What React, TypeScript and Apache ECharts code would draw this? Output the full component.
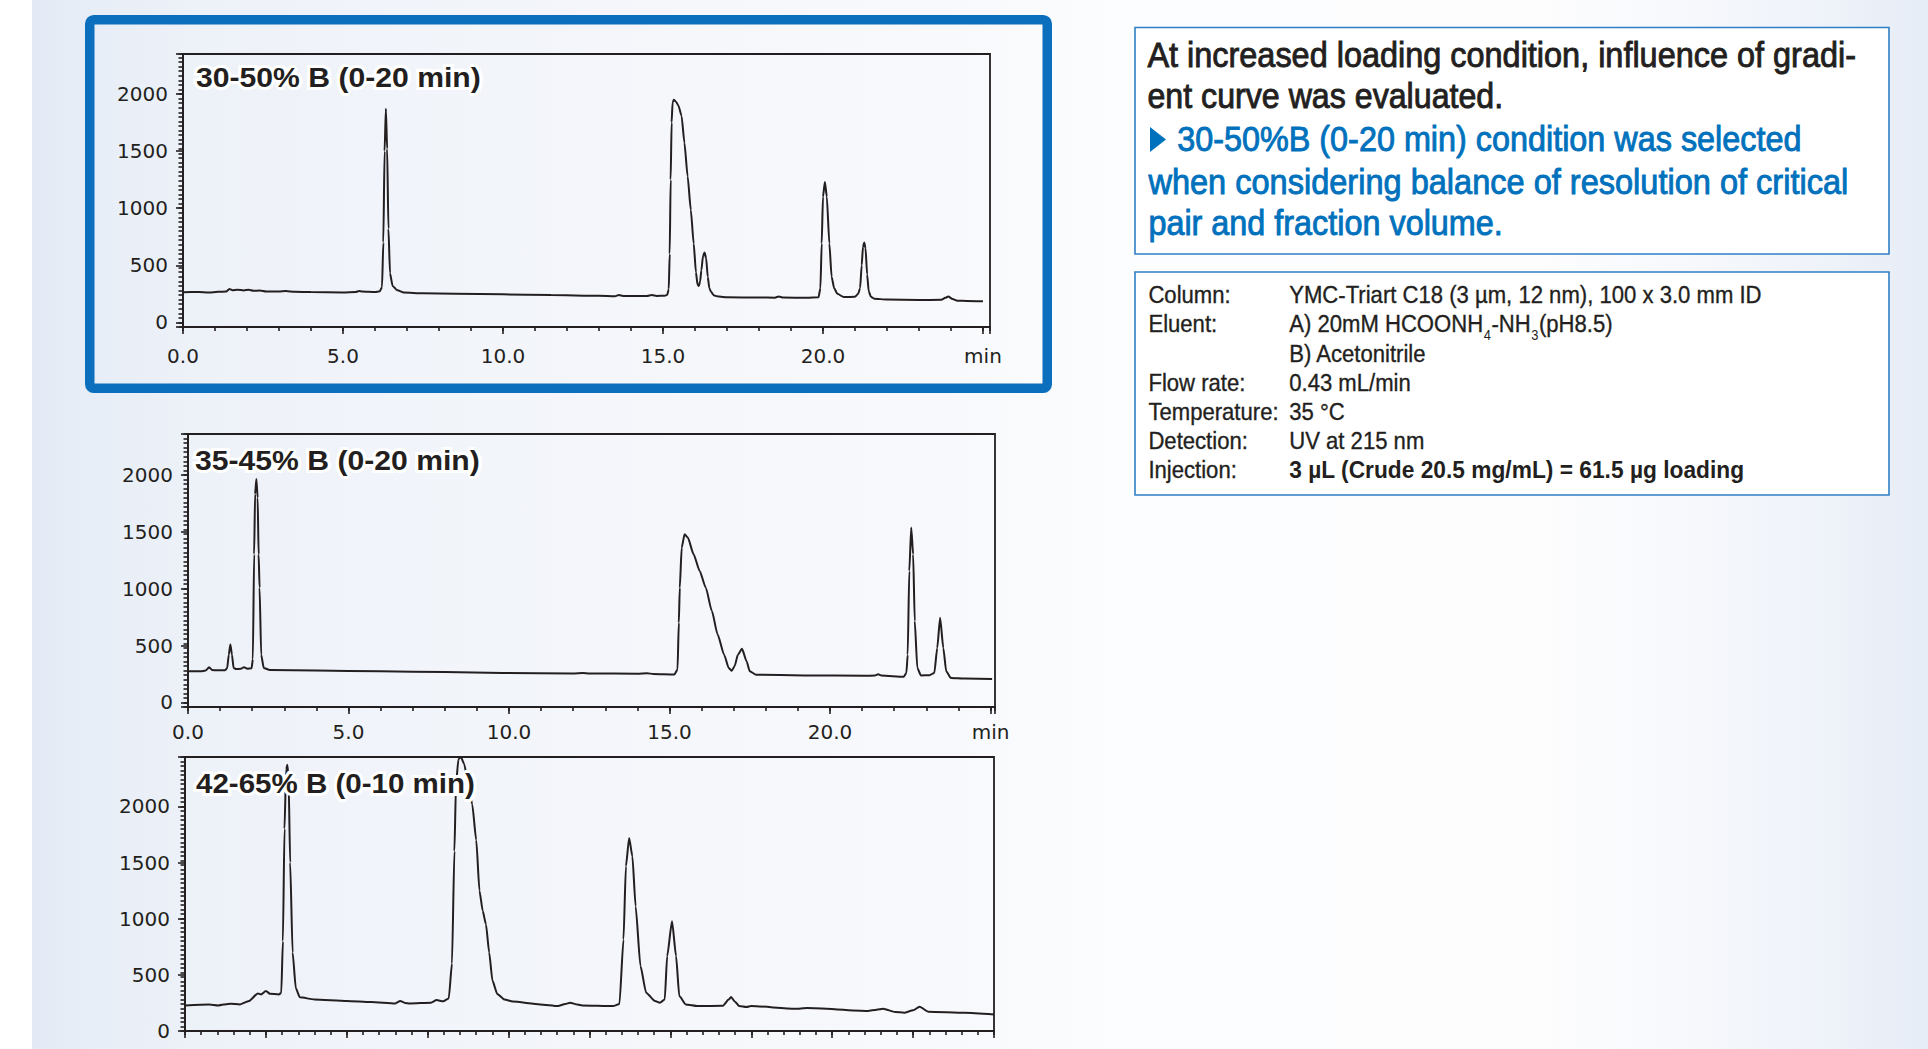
import React, { useEffect, useRef } from 'react';
import * as echarts from 'echarts';

const W = 1928;
const H = 1049;
const INK = '#231f20';
const BLUE = '#0071bc';
const FRAME_BLUE = '#0b6fbd';
const BOX_BLUE = '#2f7fc6';

// ---- chromatogram traces: [time (min), signal] ----
const trace30to50: [number, number][] = [
  [0, 265], [0.5, 266], [0.8, 262], [1.1, 268], [1.35, 270], [1.45, 292], [1.55, 282], [1.7, 287], [1.9, 280],
  [2.05, 286], [2.2, 277], [2.4, 279], [2.6, 270], [3.0, 270], [3.2, 275], [3.5, 268], [4.0, 266], [5.0, 263],
  [5.4, 266], [5.5, 275], [5.6, 270], [6.0, 266], [6.15, 272],
  [6.22, 310], [6.26, 700], [6.3, 1500], [6.34, 1870], [6.38, 1520], [6.42, 820], [6.47, 430], [6.55, 320], [6.7, 282], [6.9, 262],
  [7.5, 255], [8.5, 252], [10, 246], [11.5, 240], [13, 233], [13.5, 230], [13.62, 240], [13.75, 232], [14.5, 231],
  [14.65, 240], [14.8, 232], [15.05, 234],
  [15.13, 240], [15.18, 290], [15.21, 600], [15.24, 1250], [15.27, 1750], [15.3, 1926], [15.34, 1950], [15.4, 1935],
  [15.48, 1900], [15.58, 1810], [15.67, 1574], [15.77, 1280], [15.87, 985], [15.96, 690], [16.03, 440], [16.08, 330], [16.12, 318],
  [16.16, 360], [16.2, 456], [16.25, 580], [16.3, 612], [16.35, 560], [16.4, 397], [16.45, 300], [16.5, 268], [16.6, 235], [16.75, 226],
  [17.0, 220], [18.0, 218], [18.5, 217], [18.62, 228], [18.75, 218], [19.5, 216], [19.86, 220],
  [19.92, 300], [19.96, 690], [20.0, 1100], [20.06, 1229], [20.12, 1100], [20.2, 690], [20.27, 400], [20.35, 300], [20.45, 250], [20.65, 222],
  [21.0, 225], [21.1, 250], [21.16, 300], [21.21, 500], [21.25, 660], [21.29, 700], [21.33, 650], [21.38, 420], [21.43, 272], [21.5, 224], [21.6, 208],
  [22.0, 200], [23.0, 196], [23.7, 198], [23.82, 215], [23.92, 226], [24.05, 205], [24.2, 190], [24.5, 188], [25.0, 185],
];

const trace35to45: [number, number][] = [
  [0, 274], [0.4, 274], [0.55, 280], [0.66, 309], [0.75, 285], [0.9, 282], [1.15, 283], [1.22, 300], [1.27, 420], [1.32, 509],
  [1.37, 420], [1.42, 303], [1.5, 294], [1.65, 296], [1.74, 310], [1.85, 297], [1.98, 300],
  [2.02, 380], [2.06, 1303], [2.09, 1832], [2.13, 1965], [2.17, 1800], [2.2, 1300], [2.23, 1009], [2.28, 420], [2.36, 303], [2.55, 285],
  [4, 280], [6, 274], [8, 267], [9.8, 259], [12, 255], [12.3, 258], [12.5, 255], [14, 252], [14.3, 257], [14.5, 250], [15.15, 246],
  [15.25, 290], [15.29, 700], [15.32, 1009], [15.38, 1362], [15.47, 1479], [15.57, 1450], [15.75, 1303], [15.94, 1156], [16.13, 1009],
  [16.32, 803], [16.5, 597], [16.7, 420], [16.85, 300], [16.94, 279],
  [17.03, 320], [17.13, 420], [17.26, 471], [17.4, 362], [17.5, 274], [17.7, 244],
  [19.2, 238], [21.1, 235], [21.4, 236], [21.5, 248], [21.6, 236], [22.3, 226],
  [22.38, 260], [22.42, 420], [22.47, 1156], [22.53, 1538], [22.59, 1303], [22.64, 715], [22.72, 303], [22.83, 238],
  [23.1, 240], [23.25, 260], [23.34, 479], [23.43, 744], [23.53, 479], [23.62, 274], [23.77, 215], [24.2, 210], [25.05, 206],
];

const trace42to65: [number, number][] = [
  [0, 228], [0.3, 237], [0.41, 228], [0.56, 243], [0.68, 237], [0.79, 267], [0.9, 335], [0.94, 325], [1.0, 356], [1.05, 332], [1.16, 326],
  [1.19, 340], [1.21, 800], [1.23, 1800], [1.25, 2330], [1.265, 2370], [1.28, 2250], [1.3, 1500], [1.33, 700], [1.37, 380], [1.42, 300],
  [1.6, 281], [2.0, 267], [2.3, 258], [2.6, 246], [2.66, 267], [2.72, 250], [2.78, 246], [3.04, 252], [3.11, 276], [3.19, 264],
  [3.26, 290], [3.3, 600], [3.33, 1600], [3.35, 2200], [3.38, 2420], [3.41, 2440], [3.45, 2380], [3.5, 2200], [3.55, 2020],
  [3.6, 1700], [3.64, 1250], [3.68, 1070], [3.72, 950], [3.76, 700], [3.8, 450], [3.86, 330], [3.95, 280], [4.05, 262],
  [4.39, 237], [4.61, 222], [4.7, 240], [4.76, 252], [4.85, 235], [4.91, 228], [5.29, 222],
  [5.37, 240], [5.42, 815], [5.45, 1467], [5.49, 1719], [5.53, 1556], [5.57, 1111], [5.63, 578], [5.7, 341], [5.81, 267], [5.87, 252],
  [5.93, 280], [5.96, 667], [6.02, 978], [6.07, 667], [6.11, 311], [6.19, 237], [6.34, 222],
  [6.65, 225], [6.72, 280], [6.75, 302], [6.8, 260], [6.85, 222], [6.94, 213], [7.0, 222], [7.54, 198], [7.69, 204],
  [8.44, 178], [8.55, 190], [8.63, 198], [8.78, 169], [8.89, 163], [9.0, 185], [9.08, 216], [9.19, 172], [9.64, 163], [10.0, 148],
];

const traces = [trace30to50, trace35to45, trace42to65];

// ---- tick labels and texts ----
const yTickValues = [0, 500, 1000, 1500, 2000];
const xTickLabels = ['0.0', '5.0', '10.0', '15.0', '20.0', 'min']; // at 0, 5, 10, 15, 20, 25 min
const panelTitles = ['30-50% B (0-20 min)', '35-45% B (0-20 min)', '42-65% B (0-10 min)'];

const headlineLines = ['At increased loading condition, influence of gradi-', 'ent curve was evaluated.'];
const conclusionLines = [
  '30-50%B (0-20 min) condition was selected',
  'when considering balance of resolution of critical',
  'pair and fraction volume.',
];
const conditionLabels = ['Column:', 'Eluent:', '', 'Flow rate:', 'Temperature:', 'Detection:', 'Injection:'];
const conditionValues = [
  'YMC-Triart C18 (3 µm, 12 nm), 100 x 3.0 mm ID',
  'A) 20mM HCOONH{4}-NH{3}(pH8.5)',
  'B) Acetonitrile',
  '0.43 mL/min',
  '35 °C',
  'UV at 215 nm',
  '3 µL (Crude 20.5 mg/mL) = 61.5 µg loading',
];

// ---- layout (positions / sizes only) ----
const PANELS = [
  { left: 183, top: 54, width: 807, height: 273, xMax: 25.22, yMin: -40, yMax: 2350, major: 5, minor: 1, xLabelMargin: 19, showX: true, titleX: 196, titleBase: 86.7, titleW: 285 },
  { left: 188, top: 434, width: 807, height: 273, xMax: 25.14, yMin: -40, yMax: 2360, major: 5, minor: 1, xLabelMargin: 15, showX: true, titleX: 195, titleBase: 470, titleW: 285 },
  { left: 185, top: 757, width: 809, height: 274, xMax: 10, yMin: 0, yMax: 2440, major: 1, minor: 0.2, xLabelMargin: 20, showX: false, titleX: 196, titleBase: 793.3, titleW: 279 },
];

const HEAD_X = [1147.4, 1147.4];
const HEAD_BASE = [66.7, 108.3];
const HEAD_W = [709, 355.7];
const CONC_X = [1177.2, 1148.4, 1148.4];
const CONC_BASE = [150.7, 193.3, 235];
const CONC_W = [624.4, 700.5, 354.7];
const COND_BASE = [303.3, 332.3, 361.7, 391, 420, 449.3, 478.3];

const FAMILY = '"Liberation Sans", Arial, Helvetica, sans-serif';
const AXIS_FAMILY = '"DejaVu Sans", Verdana, sans-serif';

export default function App() {
  const ref = useRef<HTMLDivElement>(null);

  useEffect(() => {
    if (!ref.current) return;
    const chart = echarts.init(ref.current, undefined, { renderer: 'svg', width: W, height: H });

    const ctx = document.createElement('canvas').getContext('2d') as CanvasRenderingContext2D;
    const measure = (text: string, size: number, weight: string) => {
      ctx.font = `${weight} ${size}px "Liberation Sans"`;
      return ctx.measureText(text).width || 1;
    };
    const fit = (text: string, size: number, weight: string, target: number) => target / measure(text, size, weight);

    const textEl = (text: string, x: number, baseline: number, size: number, weight: string, color: string, scaleX: number, z = 10, extra: any = {}) => ({
      type: 'text',
      x,
      y: baseline - 0.347 * size,
      scaleX,
      z,
      silent: true,
      style: {
        text,
        fontSize: size,
        fontFamily: FAMILY,
        fontWeight: weight,
        fill: color,
        textAlign: 'left',
        textVerticalAlign: 'middle',
        ...extra,
      },
    });

    const graphics: any[] = [];
    // background
    graphics.push({
      type: 'rect', z: -100, silent: true,
      shape: { x: 0, y: 0, width: W, height: H },
      style: {
        fill: new echarts.graphic.LinearGradient(0, 0, 1, 0, [
          { offset: 0, color: '#e3eaf5' },
          { offset: 0.0166, color: '#e3eaf5' },
          { offset: 0.05, color: '#e8eef7' },
          { offset: 0.1, color: '#edf1f8' },
          { offset: 0.2, color: '#f1f4fa' },
          { offset: 0.35, color: '#f5f7fb' },
          { offset: 0.5, color: '#f8f9fc' },
          { offset: 0.58, color: '#fcfdfe' },
          { offset: 0.8, color: '#fdfdfe' },
          { offset: 0.88, color: '#f6f8fc' },
          { offset: 0.95, color: '#eef2f9' },
          { offset: 1, color: '#e6ecf6' },
        ]),
      },
    });
    graphics.push({ type: 'rect', z: -99, silent: true, shape: { x: 0, y: 0, width: 32, height: H }, style: { fill: '#ffffff' } });

    // selected-condition frame
    graphics.push({
      type: 'rect', z: 5, silent: true,
      shape: { x: 89.75, y: 19.75, width: 957.5, height: 368.5, r: 4 },
      style: { fill: 'none', stroke: FRAME_BLUE, lineWidth: 9.5 },
    });

    // right boxes
    graphics.push({ type: 'rect', z: 1, silent: true, shape: { x: 1135, y: 27.5, width: 754, height: 226.5 }, style: { fill: '#ffffff', stroke: BOX_BLUE, lineWidth: 1.6 } });
    graphics.push({ type: 'rect', z: 1, silent: true, shape: { x: 1135, y: 272, width: 754, height: 223 }, style: { fill: '#ffffff', stroke: BOX_BLUE, lineWidth: 1.6 } });

    // box 1 texts
    const HS = 35;
    headlineLines.forEach((t, i) => {
      graphics.push(textEl(t, HEAD_X[i], HEAD_BASE[i], HS, 'normal', INK, fit(t, HS, 'normal', HEAD_W[i]), 10, { stroke: INK, lineWidth: 0.9 }));
    });
    conclusionLines.forEach((t, i) => {
      graphics.push(textEl(t, CONC_X[i], CONC_BASE[i], HS, 'normal', BLUE, fit(t, HS, 'normal', CONC_W[i]), 10, { stroke: BLUE, lineWidth: 0.9 }));
    });
    graphics.push({
      type: 'polygon', z: 10, silent: true,
      shape: { points: [[1150, 127], [1166, 139.5], [1150, 152]] },
      style: { fill: BLUE },
    });

    // box 2 texts
    const CS = 24;
    const condScale = fit(conditionValues[0], CS, 'normal', 472.6);
    const condExtra = { stroke: INK, lineWidth: 0.35 };
    conditionLabels.forEach((t, i) => {
      if (t) graphics.push(textEl(t, 1148.4, COND_BASE[i], CS, 'normal', INK, condScale, 10, condExtra));
    });
    conditionValues.forEach((t, i) => {
      const isLast = i === conditionValues.length - 1;
      if (isLast) {
        graphics.push(textEl(t, 1289.2, COND_BASE[i], CS, 'bold', INK, fit(t, CS, 'bold', 455.2)));
        return;
      }
      const parts = t.split(/\{(\d)\}/);
      let cx = 1289.2;
      parts.forEach((p, k) => {
        if (!p) return;
        if (k % 2 === 1) {
          graphics.push(textEl(p, cx + 0.5, COND_BASE[i] + 8, 14, 'normal', INK, condScale));
          cx += measure(p, 14, 'normal') * condScale + 1;
        } else {
          graphics.push(textEl(p, cx, COND_BASE[i], CS, 'normal', INK, condScale, 10, condExtra));
          cx += measure(p, CS, 'normal') * condScale;
        }
      });
    });

    // panel titles (with white halo)
    PANELS.forEach((p, i) => {
      const t = panelTitles[i];
      const s = fit(t, 27, 'bold', p.titleW);
      graphics.push(textEl(t, p.titleX, p.titleBase, 27, 'bold', '#ffffff', s, 99, { stroke: '#ffffff', lineWidth: 6 }));
      graphics.push(textEl(t, p.titleX, p.titleBase, 27, 'bold', INK, s, 100));
    });

    const grid: any[] = [];
    const xAxis: any[] = [];
    const yAxis: any[] = [];
    const series: any[] = [];
    const axisLineStyle = { color: INK, width: 1.8 };
    const tickStyle = { color: INK, width: 1.6 };

    PANELS.forEach((p, i) => {
      grid.push({
        left: p.left, top: p.top, width: p.width, height: p.height,
        show: true, borderColor: INK, borderWidth: 1.8, backgroundColor: 'transparent',
      });
      xAxis.push({
        type: 'value', gridIndex: i, min: 0, max: p.xMax, interval: p.major, position: 'bottom',
        axisLine: { show: true, onZero: false, lineStyle: axisLineStyle },
        axisTick: { show: true, length: 7, lineStyle: tickStyle },
        axisLabel: {
          show: p.showX, margin: p.xLabelMargin, color: INK, fontFamily: AXIS_FAMILY, fontSize: 20,
          formatter: (v: number) => {
            const k = v / 5;
            if (Math.abs(k - Math.round(k)) > 1e-6) return '';
            return xTickLabels[Math.round(k)] ?? '';
          },
        },
        splitLine: { show: false },
      });
      xAxis.push({
        type: 'value', gridIndex: i, min: 0, max: p.xMax, interval: p.minor, position: 'bottom',
        axisLine: { show: false, onZero: false },
        axisTick: { show: true, length: 4, lineStyle: tickStyle },
        axisLabel: { show: false },
        splitLine: { show: false },
      });
      yAxis.push({
        type: 'value', gridIndex: i, min: p.yMin, max: p.yMax, minInterval: 500, maxInterval: 500, splitNumber: 5, position: 'left',
        axisLine: { show: true, onZero: false, lineStyle: axisLineStyle },
        axisTick: { show: true, length: 7, lineStyle: tickStyle },
        axisLabel: {
          margin: 15, padding: [7, 0, 0, 0], color: INK, fontFamily: AXIS_FAMILY, fontSize: 20,
          formatter: (v: number) => (yTickValues.indexOf(Math.round(v)) >= 0 && Math.abs(v - Math.round(v)) < 1e-6 ? String(Math.round(v)) : ''),
        },
        splitLine: { show: false },
      });
      yAxis.push({
        type: 'value', gridIndex: i, min: p.yMin, max: p.yMax, interval: 40, position: 'left',
        axisLine: { show: false, onZero: false },
        axisTick: { show: true, length: 4.5, lineStyle: tickStyle },
        axisLabel: { show: false },
        splitLine: { show: false },
      });
      series.push({
        type: 'line', xAxisIndex: 2 * i, yAxisIndex: 2 * i, data: traces[i],
        showSymbol: false, symbol: 'none', smooth: 0.2, smoothMonotone: 'x',
        lineStyle: { color: INK, width: 2 }, silent: true, z: 3,
      });
    });

    chart.setOption({
      animation: false,
      grid, xAxis, yAxis, series,
      graphic: { elements: graphics },
    });

    return () => chart.dispose();
  }, []);

  return <div ref={ref} style={{ position: 'absolute', left: 0, top: 0, width: W, height: H }} />;
}
